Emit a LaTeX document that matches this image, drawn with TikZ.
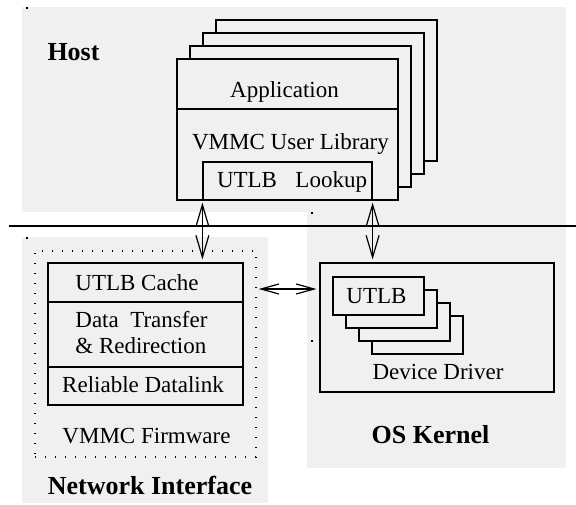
\documentclass[tikz,border=0pt]{standalone}
\usepackage{fontspec}
\setmainfont{Liberation Serif}
\usetikzlibrary{arrows.meta}

\begin{document}
\begin{tikzpicture}[x=0.5pt,y=-0.5pt]
		\newcommand{\px}{0.5pt} % one pixel of the drawing
		\newcommand{\off}{13}   % shift of the stacked copies
		\definecolor{bg}{RGB}{240,240,240}

		% styles of boxes, texts and links
		\tikzset{
			box/.style={draw, line width=0.6pt, inner sep=0pt, fill=bg},
			txt/.style={inner sep=0pt, anchor=base, font=\fontsize{11.5}{13}\selectfont},
			title/.style={inner sep=0pt, anchor=base, font=\fontsize{13}{15}\selectfont\bfseries},
			link/.style={line width=0.6pt, >={Straight Barb[length=11pt,width=6.5pt]}, <->, shorten <=1pt, shorten >=1.5pt}
		}

		\useasboundingbox (0,0) rectangle (576,504);

		% shaded areas
		\fill[bg] (22,7) rectangle (566,212);
		\fill[bg] (307,212) rectangle (566,468);
		\fill[bg] (22,237) rectangle (268,503);
		\foreach \p in {(26,7),(311,212),(26,237),(311,340)}
			\fill \p rectangle +(2,1.5);

		% user / kernel line
		\draw[line width=0.6pt] (9,226) -- (576,226);

		% host
		\node[title] (host) at (73.5,60) {Host};
		\foreach \i in {3,2,1}
			\draw[box] (177+\off*\i,59-\off*\i) rectangle (398+\off*\i,200-\off*\i);
		\node[box, minimum width=221*\px, minimum height=50*\px] (app) at (287.5,84) {};
		\node[box, minimum width=221*\px, minimum height=91*\px] (lib) at (287.5,154.5) {};
		\node[box, minimum width=169*\px, minimum height=38*\px] (lookup) at (287.5,181) {};
		\node[txt] (apptxt) at (284.5,97) {Application};
		\node[txt] (libtxt) at (290.5,149) {VMMC User Library};
		\node[txt] (lookuptxt) at (292,187) {UTLB\hspace{0.8em}Lookup};

		% network interface
		\node[draw, line width=0.7pt, dash pattern=on 0.7pt off 4.3pt, inner sep=0pt,
			minimum width=221*\px, minimum height=206*\px] (fw) at (145.5,354) {};
		\node[box, minimum width=195*\px, minimum height=39*\px] (cache) at (145.5,282.5) {};
		\node[box, minimum width=195*\px, minimum height=65*\px] (xfer) at (145.5,334.5) {};
		\node[box, minimum width=195*\px, minimum height=38*\px] (dlink) at (145.5,386) {};
		\node[txt, anchor=base west] (cachetxt) at (75,290) {UTLB Cache};
		\node[txt, anchor=base west] (xfertxt) at (75,327) {Data~~Transfer};
		\node[txt, anchor=base west] (redirtxt) at (75,353) {\& Redirection};
		\node[txt] (dlinktxt) at (143,392) {Reliable Datalink};
		\node[txt] (fwtxt) at (146.5,443) {VMMC Firmware};
		\node[title] (nic) at (150,494) {Network Interface};

		% os kernel
		\node[box, minimum width=234*\px, minimum height=129*\px] (driver) at (437,327.5) {};
		\foreach \i in {3,2,1}
			\draw[box] (333+\off*\i,277+\off*\i) rectangle (424+\off*\i,315+\off*\i);
		\node[box, minimum width=91*\px, minimum height=38*\px] (utlb) at (378.5,296) {};
		\node[txt] (utlbtxt) at (376.5,303) {UTLB};
		\node[txt] (drivertxt) at (438,379) {Device Driver};
		\node[title] (kernel) at (430.5,443) {OS Kernel};

		% links
		\draw[link] (lookup.south west) -- (lookup.south west |- cache.north);
		\draw[link] (lookup.south east) -- (lookup.south east |- driver.north);
		\coordinate (fwside) at (fw.east |- 0,289);
		\draw[link, >={Straight Barb[length=9pt,width=5pt]}] (fwside) -- (fwside -| driver.west);
\end{tikzpicture}
\end{document}
